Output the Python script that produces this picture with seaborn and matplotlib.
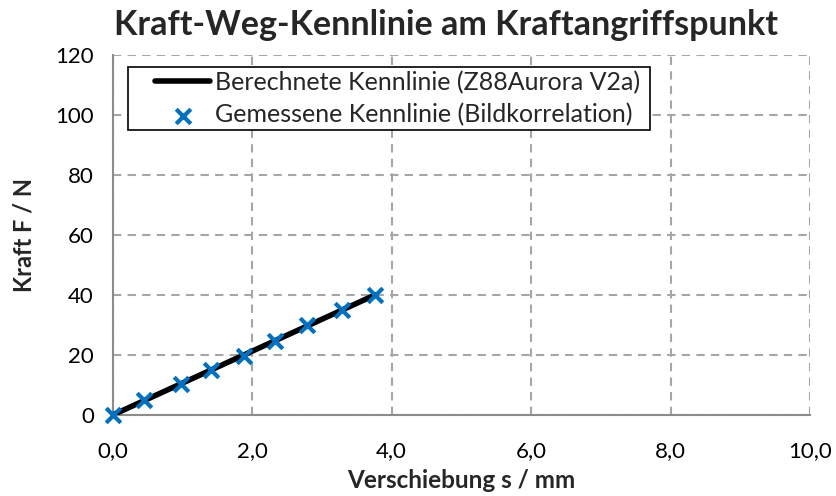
import matplotlib
matplotlib.use("Agg")
import matplotlib.pyplot as plt
import seaborn as sns
import pandas as pd
from matplotlib.ticker import FuncFormatter, MultipleLocator
from matplotlib.lines import Line2D
from matplotlib.collections import PathCollection
from matplotlib.legend_handler import HandlerLine2D, HandlerPathCollection

# Measured points (image correlation)
s_measured = [0.0, 0.45, 0.98, 1.41, 1.88, 2.33, 2.79, 3.29, 3.76]
f_measured = [0.0, 5.0, 10.5, 15.0, 19.8, 24.7, 30.0, 35.0, 40.0]

# Computed characteristic (Z88Aurora V2a)
s_computed = [0.0, 0.47, 0.94, 1.41, 1.88, 2.35, 2.82, 3.29, 3.76]
f_computed = [0.0, 5.0, 10.0, 15.0, 20.0, 25.0, 30.0, 35.0, 40.0]

label_computed = "Berechnete Kennlinie (Z88Aurora V2a)"
label_measured = "Gemessene Kennlinie (Bildkorrelation)"
title = "Kraft-Weg-Kennlinie am Kraftangriffspunkt"
xlabel = "Verschiebung s / mm"
ylabel = "Kraft F / N"

sns.set_theme(style="white")
plt.rcParams["font.family"] = ["Lato", "DejaVu Sans"]

df_c = pd.DataFrame({"s": s_computed, "F": f_computed})
df_m = pd.DataFrame({"s": s_measured, "F": f_measured})

W, H = 837, 496
fig = plt.figure(figsize=(W / 100, H / 100), dpi=100)
ax_l, ax_r, ax_t, ax_b = 112.7, 810, 55, 415
axw, axh = ax_r - ax_l, ax_b - ax_t
ax = fig.add_axes([ax_l / W, 1 - ax_b / H, axw / W, axh / H])

sns.lineplot(data=df_c, x="s", y="F", ax=ax, color="black", linewidth=4,
             label=label_computed, zorder=3)
sns.scatterplot(data=df_m, x="s", y="F", ax=ax, marker="x", color="#0070C0",
                s=110, linewidth=3, label=label_measured, zorder=4, clip_on=False)

ax.set_xlim(0, 10)
ax.set_ylim(0, 120)
ax.xaxis.set_major_locator(MultipleLocator(2))
ax.yaxis.set_major_locator(MultipleLocator(20))
ax.xaxis.set_major_formatter(FuncFormatter(lambda v, p: f"{v:.1f}".replace(".", ",")))
ax.yaxis.set_major_formatter(FuncFormatter(lambda v, p: f"{v:.0f}"))

ax.grid(True, linestyle=(0, (4, 3)), color="#A6A6A6", linewidth=1.5)
ax.set_axisbelow(True)
for side in ("top", "right"):
    ax.spines[side].set_visible(False)
for side in ("left", "bottom"):
    ax.spines[side].set_color("#8C8C8C")
    ax.spines[side].set_linewidth(1.5)
    ax.spines[side].set_zorder(2)

ax.tick_params(axis="both", which="major", direction="out", length=5.5, width=1.5,
               color="#8C8C8C", labelsize=16, labelcolor="black")
ax.tick_params(axis="y", pad=8)
ax.tick_params(axis="x", pad=13)

ax.set_xlabel(xlabel, fontsize=17.5, fontweight="bold", labelpad=6)
ax.set_ylabel(ylabel, fontsize=17, fontweight="bold", labelpad=14)
fig.text(0.533, 1 - 25 / H, title, fontsize=24.5, fontweight="bold",
         ha="center", va="center")

leg_fs = 18
fs_px = leg_fs * 100 / 72
xpad = 24 / fs_px
leg_x0 = (128 - ax_l) / axw
leg_y0 = 1 - (133 - ax_t) / axh
leg_w = (650 - 128) / axw
leg_h = (133 - 67) / axh
leg = ax.legend(loc="upper left", bbox_to_anchor=(leg_x0, leg_y0, leg_w, leg_h),
                mode="expand", fontsize=leg_fs, frameon=True, fancybox=False,
                edgecolor="black", framealpha=1, borderpad=0.14,
                handlelength=(55 + 24) / fs_px, handletextpad=0.2,
                labelspacing=0.36, borderaxespad=0,
                handler_map={Line2D: HandlerLine2D(xpad=xpad),
                             PathCollection: HandlerPathCollection(xpad=xpad)})
leg.get_frame().set_linewidth(1.2)

fig.savefig("out.png", dpi=100)
